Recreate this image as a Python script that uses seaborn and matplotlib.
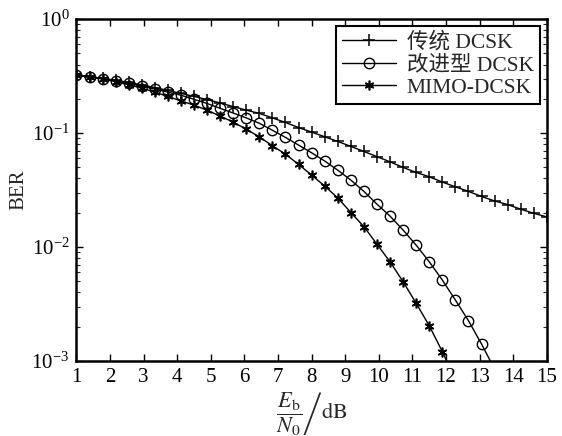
import numpy as np
import pandas as pd
import matplotlib
matplotlib.use("Agg")
import matplotlib.pyplot as plt
import seaborn as sns

# ---- data ----
ebn0 = [1.000, 1.389, 1.778, 2.167, 2.556, 2.944, 3.333, 3.722, 4.111, 4.500,
        4.889, 5.278, 5.667, 6.056, 6.444, 6.833, 7.222, 7.611, 8.000, 8.389,
        8.778, 9.167, 9.556, 9.944, 10.333, 10.722, 11.111, 11.500, 11.889, 12.278,
        12.667, 13.056, 13.444, 13.833, 14.222, 14.611, 15.000]

ber_conv = [0.322, 0.312, 0.302, 0.291, 0.279, 0.265, 0.251, 0.237, 0.223, 0.210,
            0.197, 0.184, 0.171, 0.159, 0.149, 0.136, 0.124, 0.112, 0.102, 0.0929,
            0.0845, 0.0765, 0.0690, 0.0622, 0.0560, 0.0500, 0.0452, 0.0414, 0.0372, 0.0338,
            0.0308, 0.0278, 0.0254, 0.0236, 0.0215, 0.0198, 0.0184]

ber_impr = [0.322, 0.314, 0.300, 0.288, 0.274, 0.259, 0.244, 0.229, 0.215, 0.198,
            0.182, 0.165, 0.150, 0.136, 0.122, 0.106, 0.0917, 0.0785, 0.0672, 0.0569,
            0.0473, 0.0387, 0.0308, 0.0238, 0.0187, 0.0141, 0.0104, 0.00743, 0.00514, 0.00343,
            0.00226, 0.00141, 0.00085, np.nan, np.nan, np.nan, np.nan]

ber_mimo = [0.322, 0.312, 0.298, 0.283, 0.266, 0.248, 0.229, 0.210, 0.192, 0.176,
            0.159, 0.141, 0.125, 0.108, 0.0929, 0.0774, 0.0654, 0.0531, 0.0428, 0.0343,
            0.0270, 0.0201, 0.0151, 0.0106, 0.00743, 0.00497, 0.00321, 0.00204, 0.00121, 0.00069,
            np.nan, np.nan, np.nan, np.nan, np.nan, np.nan, np.nan]

labels = ["传统 DCSK", "改进型 DCSK", "MIMO-DCSK"]
x_ticks = list(range(1, 16))
y_ticks = [1e-3, 1e-2, 1e-1, 1e0]

# ---- style ----
sns.set_theme(style="ticks")
plt.rcParams["font.family"] = ["Liberation Serif", "Noto Sans CJK SC", "DejaVu Sans"]
plt.rcParams["mathtext.fontset"] = "stix"
plt.rcParams["axes.unicode_minus"] = True

fig = plt.figure(figsize=(5.62, 4.36), dpi=100)
ax = fig.add_axes([0.136, 0.172, 0.837, 0.784])

asterisk = (6, 2, 0)
series = [(ber_conv, "+", labels[0], dict(markersize=9, markeredgewidth=1.1)),
          (ber_impr, "o", labels[1], dict(markersize=7.5, markerfacecolor="none",
                                          markeredgewidth=1.0)),
          (ber_mimo, asterisk, labels[2], dict(markersize=7, markeredgewidth=1.2))]

for ys, mk, lab, kw in series:
    sns.lineplot(x=ebn0, y=ys, ax=ax, color="black", linewidth=1.0,
                 marker=mk, markeredgecolor="black", label=lab, **kw)

ax.set_yscale("log")
ax.set_xlim(1, 15)
ax.set_ylim(1e-3, 1e0)
ax.set_xticks(x_ticks)
ax.set_xticklabels([str(t) for t in x_ticks])
ax.set_yticks(y_ticks)

for s in ax.spines.values():
    s.set_linewidth(1.8)
    s.set_color("black")

ax.tick_params(axis="both", which="major", direction="in", length=5, width=1.0,
               top=True, right=True, labelsize=15, colors="black", pad=5)
ax.tick_params(axis="y", which="minor", direction="in", length=3, width=0.8,
               left=True, right=True)
ax.tick_params(axis="x", which="minor", bottom=False, top=False)

ax.set_ylabel("BER", fontsize=15, labelpad=2)
ax.set_xlabel(r"$\left.\dfrac{E_{\mathrm{b}}}{N_0}\right/\mathrm{dB}$", fontsize=16,
              labelpad=2)

leg = ax.legend(loc="upper right", fontsize=15.5, frameon=True, fancybox=False,
                edgecolor="black", framealpha=1, borderpad=0.3, labelspacing=0.12,
                handlelength=2.5, handletextpad=0.5, borderaxespad=0.3)
leg.get_frame().set_linewidth(1.5)

fig.savefig("out.png", dpi=100)
